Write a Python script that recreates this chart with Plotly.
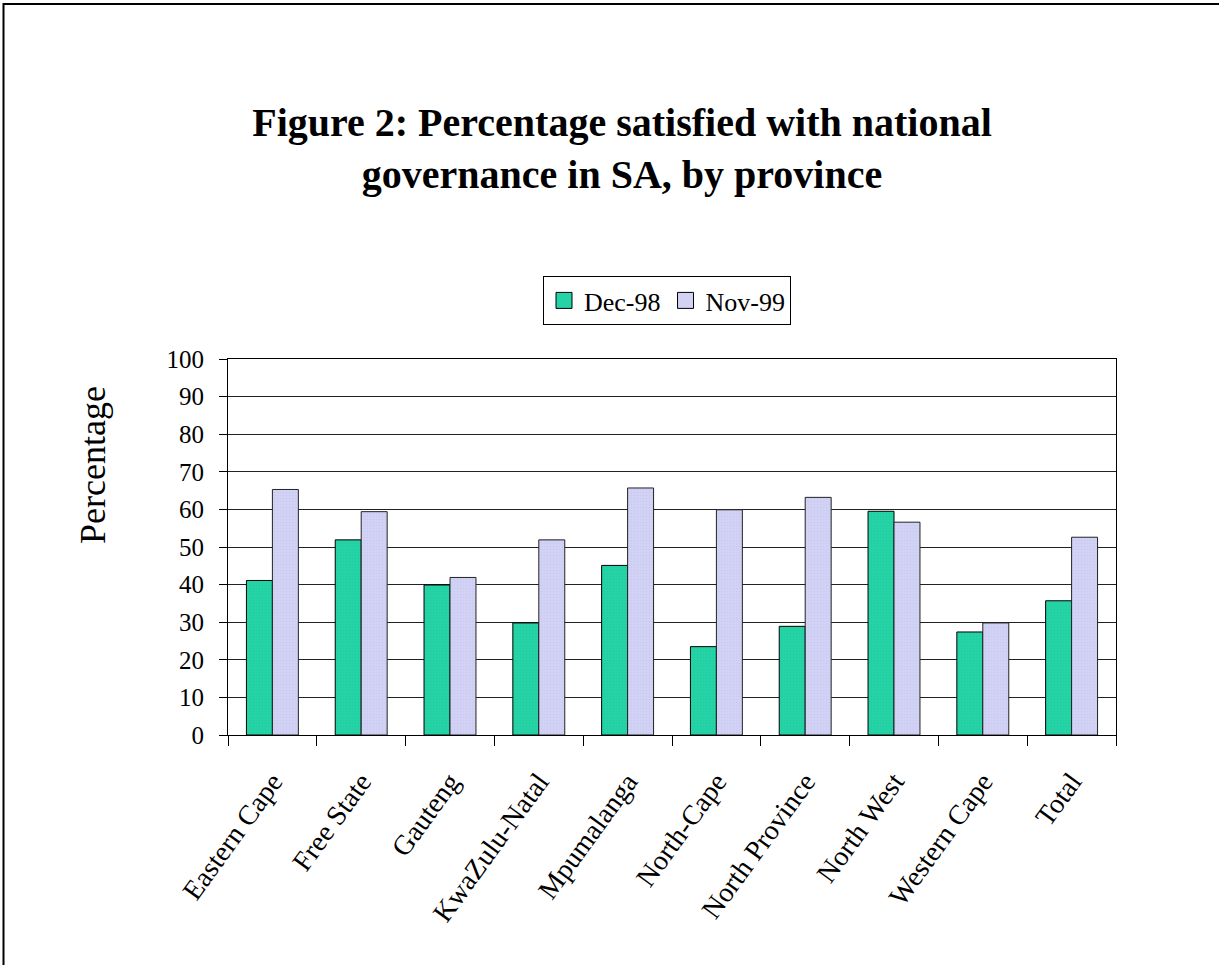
import plotly.graph_objects as go

provinces = ["Eastern Cape", "Free State", "Gauteng", "KwaZulu-Natal", "Mpumalanga",
             "North-Cape", "North Province", "North West", "Western Cape", "Total"]
dec98 = [41.1, 51.9, 39.9, 29.8, 45.1, 23.5, 28.9, 59.5, 27.4, 35.7]
nov99 = [65.3, 59.4, 41.9, 51.9, 65.7, 59.9, 63.2, 56.6, 29.8, 52.6]
series_names = ["Dec-98", "Nov-99"]
y_ticks = list(range(0, 101, 10))

W, H = 1219, 965
L, R, T, B = 228, 1116, 359, 735
green, green_fg = "#26D3A6", "#17C898"
lav, lav_fg = "#D2D2F5", "#BDBDEB"

fig = go.Figure()
fig.add_trace(go.Bar(
    x=provinces, y=dec98, name=series_names[0], showlegend=False,
    marker=dict(color=green, line=dict(color="black", width=1),
                pattern=dict(shape=".", fgcolor=green_fg, size=3, solidity=0.25)),
))
fig.add_trace(go.Bar(
    x=provinces, y=nov99, name=series_names[1], showlegend=False,
    marker=dict(color=lav, line=dict(color="#222", width=1),
                pattern=dict(shape=".", fgcolor=lav_fg, size=3, solidity=0.25)),
))
# legend entries with larger square swatches
for nm, col in zip(series_names, [green, lav]):
    fig.add_trace(go.Scatter(
        x=[None], y=[None], mode="markers", name=nm,
        marker=dict(symbol="square", size=17, color=col, line=dict(color="black", width=1)),
    ))

serif = "Liberation Serif, Times New Roman, serif"

fig.update_layout(
    width=W, height=H,
    margin=dict(l=L, r=W - R, t=T, b=H - B, autoexpand=False),
    paper_bgcolor="white", plot_bgcolor="white",
    barmode="group", bargap=0.415, bargroupgap=0,
    font=dict(family=serif, color="black"),
    title=dict(
        text="<b>Figure 2: Percentage satisfied with national<br>governance in SA, by province</b>",
        x=622 / W, xanchor="center", xref="container",
        y=1 - 136 / H, yanchor="top", yref="container",
        font=dict(family=serif, size=40, color="black"),
    ),
    legend=dict(
        orientation="h", x=(543 - L) / (R - L), xanchor="left",
        y=(B - 276) / (B - T), yanchor="top",
        bordercolor="black", borderwidth=1, bgcolor="white",
        font=dict(family=serif, size=26, color="black"),
        traceorder="normal", itemwidth=30,
    ),
    xaxis=dict(
        type="category", tickangle=-54, tickson="boundaries",
        ticks="outside", ticklen=10, tickcolor="black", tickwidth=1,
        ticklabelstandoff=18,
        showline=True, linecolor="black", linewidth=1, mirror=True,
        tickfont=dict(family=serif, size=28, color="black"),
        showgrid=False,
    ),
    yaxis=dict(
        range=[0, 100], tickvals=y_ticks, ticks="outside", ticklen=8,
        tickcolor="black", tickwidth=1, ticklabelstandoff=10,
        showline=True, linecolor="black", linewidth=1, mirror=True,
        showgrid=True, gridcolor="#222", gridwidth=1,
        tickfont=dict(family=serif, size=25, color="black"),
        zeroline=False,
    ),
    annotations=[dict(
        text="Percentage", textangle=-90, showarrow=False,
        xref="paper", yref="paper",
        x=(93 - L) / (R - L), y=(B - 465) / (B - T),
        xanchor="center", yanchor="middle",
        font=dict(family=serif, size=36, color="black"),
    )],
    shapes=[dict(
        type="rect", xref="paper", yref="paper",
        x0=(3.5 - L) / (R - L), x1=1.3,
        y0=-1.0, y1=(B - 4) / (B - T),
        line=dict(color="black", width=2), fillcolor="rgba(0,0,0,0)", layer="above",
    )],
)

fig.write_html("out.html")
